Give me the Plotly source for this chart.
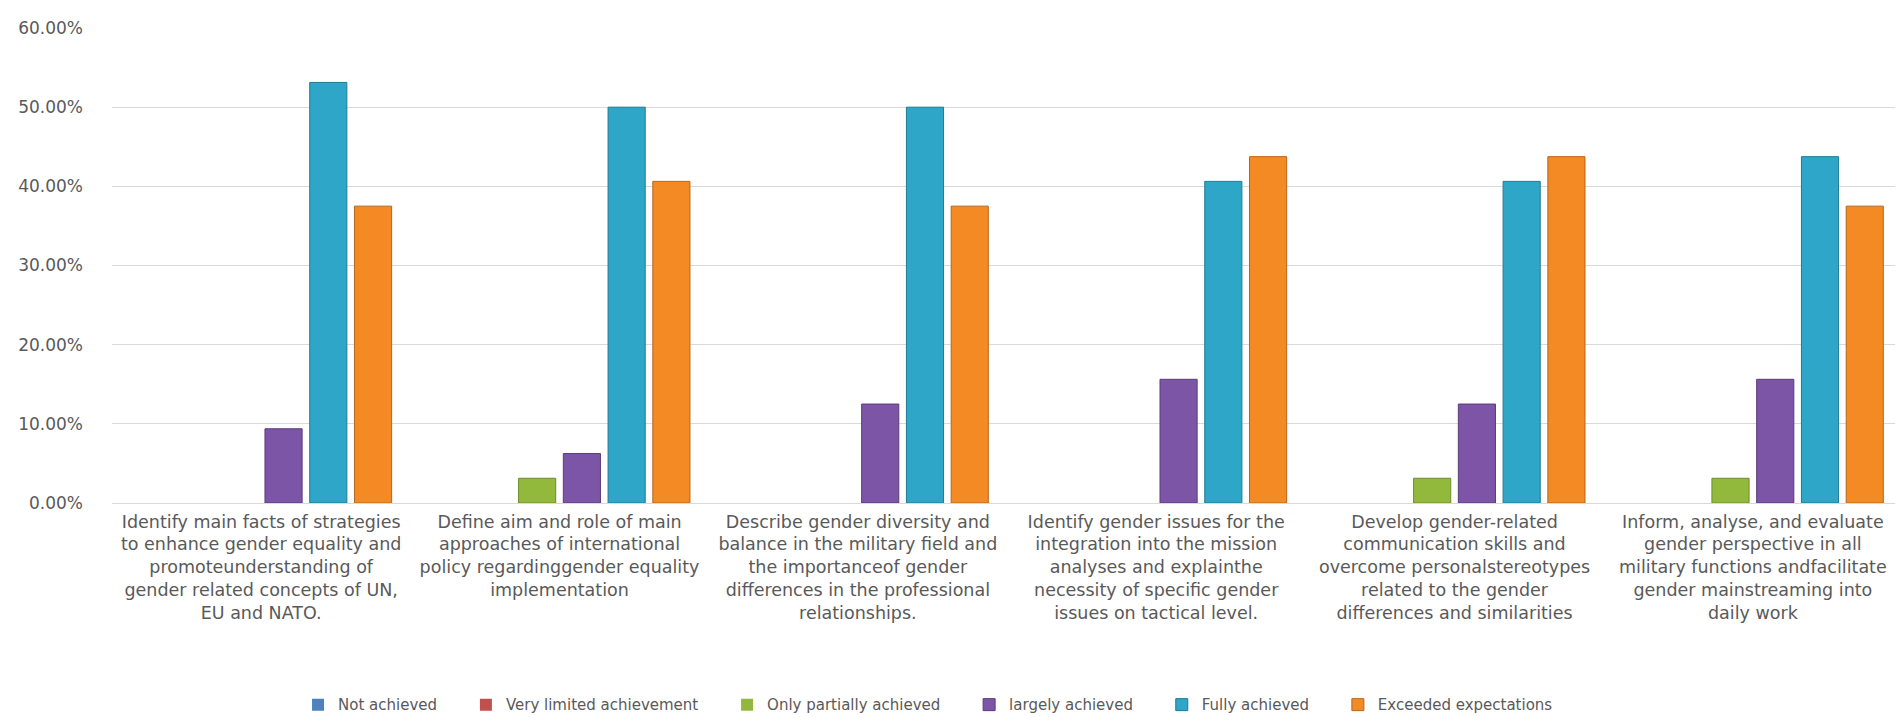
import plotly.graph_objects as go

categories = [
    "Identify main facts of strategies<br>to enhance gender equality and<br>promoteunderstanding of<br>gender related concepts of UN,<br>EU and NATO.",
    "Define aim and role of main<br>approaches of international<br>policy regardinggender equality<br>implementation",
    "Describe gender diversity and<br>balance in the military field and<br>the importanceof gender<br>differences in the professional<br>relationships.",
    "Identify gender issues for the<br>integration into the mission<br>analyses and explainthe<br>necessity of specific gender<br>issues on tactical level.",
    "Develop gender-related<br>communication skills and<br>overcome personalstereotypes<br>related to the gender<br>differences and similarities",
    "Inform, analyse, and evaluate<br>gender perspective in all<br>military functions andfacilitate<br>gender mainstreaming into<br>daily work",
]

series_names = ["Not achieved", "Very limited achievement", "Only partially achieved",
                "largely achieved", "Fully achieved", "Exceeded expectations"]

not_achieved = [0, 0, 0, 0, 0, 0]
very_limited = [0, 0, 0, 0, 0, 0]
only_partially = [0, 0.03125, 0, 0, 0.03125, 0.03125]
largely = [0.09375, 0.0625, 0.125, 0.15625, 0.125, 0.15625]
fully = [0.53125, 0.50, 0.50, 0.40625, 0.40625, 0.4375]
exceeded = [0.375, 0.40625, 0.375, 0.4375, 0.4375, 0.375]

values = [not_achieved, very_limited, only_partially, largely, fully, exceeded]
colors = ["#4F81BD", "#C0504D", "#93B93C", "#7D55A6", "#2EA6C8", "#F48A24"]
edges = ["#3A6190", "#903B39", "#6E8C2B", "#5A3C7A", "#1F7A94", "#B8661A"]

PAD = "\u00a0" * 5

fig = go.Figure()
for name, vals, c, e in zip(series_names, values, colors, edges):
    fig.add_trace(go.Bar(
        name=name + PAD, x=categories, y=vals,
        marker=dict(color=c, line=dict(color=e, width=[0 if v == 0 else 1 for v in vals])),
    ))

fig.update_layout(
    width=1903, height=717,
    barmode="group", bargap=0.1, bargroupgap=0.17,
    plot_bgcolor="white", paper_bgcolor="white",
    margin=dict(l=104, r=0, t=20, b=222, autoexpand=False),
    font=dict(family="DejaVu Sans", size=14, color="#595959"),
    showlegend=True,
    legend=dict(orientation="h", x=0.46, xanchor="center", y=-0.425, yanchor="middle",
                font=dict(size=15, color="#595959"), itemwidth=30),
)
fig.update_yaxes(range=[0, 0.6], dtick=0.1, tickformat=".2%", automargin=False,
                 showgrid=True, gridcolor="#D9D9D9", gridwidth=1,
                 zeroline=True, zerolinecolor="#D9D9D9", zerolinewidth=1,
                 showline=False, ticks="", ticklabelstandoff=28,
                 tickfont=dict(size=17, color="#595959"))
fig.update_xaxes(showline=False, ticks="", tickangle=0, range=[-0.5, 5.53], automargin=False,
                 ticklabelstandoff=6,
                 tickfont=dict(family="DejaVu Sans", size=17.5, color="#595959"))

fig.write_html("out.html")
